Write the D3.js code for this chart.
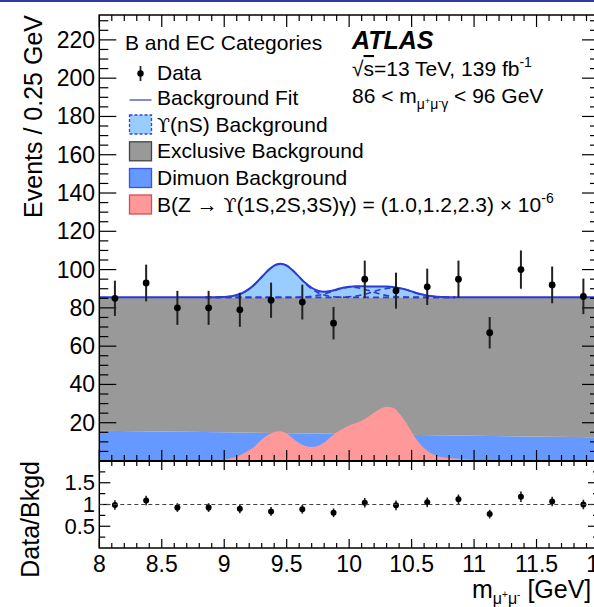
<!DOCTYPE html>
<html>
<head>
<meta charset="utf-8">
<script src="https://cdn.jsdelivr.net/npm/d3@7"></script>
<style>
  html, body { margin: 0; padding: 0; background: #fff; overflow: hidden; }
  svg { display: block; font-family: "Liberation Sans", Arial, Helvetica, sans-serif; }
</style>
</head>
<body>
<svg id="chart" width="594" height="607"></svg>
<script>
// ---- observed dimuon mass spectrum, 0.25 GeV bins ----
const binCenters = [8.125, 8.375, 8.625, 8.875, 9.125, 9.375, 9.625, 9.875,
                    10.125, 10.375, 10.625, 10.875, 11.125, 11.375, 11.625, 11.875];
const counts      = [85, 93, 80, 80, 79, 84, 83, 72, 95, 89, 91, 95, 67, 100, 92, 86];
const countErrors = [9.2, 9.6, 8.9, 8.9, 8.9, 9.2, 9.1, 8.5, 9.7, 9.4, 9.5, 9.7, 8.2, 10.0, 9.6, 9.3];
const ratios      = [0.99, 1.09, 0.93, 0.93, 0.90, 0.84, 0.89, 0.81, 1.04, 0.98, 1.05, 1.12, 0.78, 1.18, 1.07, 1.00];
const ratioErrors = [0.11, 0.11, 0.10, 0.10, 0.10, 0.10, 0.10, 0.10, 0.11, 0.11, 0.11, 0.11, 0.10, 0.12, 0.11, 0.11];

// ---- continuum backgrounds (stacked) ----
const bkgMass   = [8, 9, 10, 11, 12];
const dimuon    = [15.8, 15.0, 14.1, 13.2, 12.4];
const exclusive = [69.7, 70.5, 71.4, 72.3, 73.1];

// ---- Upsilon(nS) resonant background components ----
const upsMass = [8.85, 8.90, 8.95, 9.00, 9.05, 9.10, 9.15, 9.20, 9.25, 9.30, 9.35, 9.40, 9.45, 9.50,
                 9.55, 9.60, 9.65, 9.70, 9.75, 9.80, 9.85, 9.90, 9.95, 10.00, 10.05, 10.10, 10.15,
                 10.20, 10.25, 10.30, 10.35, 10.40, 10.45, 10.50, 10.55, 10.60, 10.65, 10.70, 10.75,
                 10.80, 10.85];
const ups1S = [0, 0, 0.1, 0.2, 0.5, 1.2, 2.4, 4.4, 7.2, 10.6, 14.0, 16.6, 17.5, 16.6,
               14.0, 10.6, 7.2, 4.4, 2.4, 1.2, 0.5, 0.2, 0.1, 0, 0, 0, 0,
               0, 0, 0, 0, 0, 0, 0, 0, 0, 0, 0, 0, 0, 0];
const ups2S = [0, 0, 0, 0, 0, 0, 0, 0, 0, 0, 0, 0, 0, 0,
               0, 0.1, 0.25, 0.6, 1.05, 1.75, 2.8, 3.9, 4.75, 5.25, 5.2, 4.6, 3.65,
               2.6, 1.65, 0.95, 0.45, 0.2, 0.1, 0, 0, 0, 0, 0, 0, 0, 0];
const ups3S = [0, 0, 0, 0, 0, 0, 0, 0, 0, 0, 0, 0, 0, 0,
               0, 0, 0, 0, 0, 0, 0, 0.05, 0.15, 0.3, 0.65, 1.25, 2.0,
               3.1, 4.05, 4.7, 5.0, 4.7, 4.05, 3.1, 2.0, 1.25, 0.65, 0.3, 0.15, 0.05, 0];

// ---- Z -> Upsilon(1S,2S,3S) gamma signal hypothesis ----
const sigMass = [8.85, 8.90, 8.95, 9.00, 9.05, 9.10, 9.15, 9.20, 9.25, 9.30,
                 9.35, 9.40, 9.45, 9.50, 9.55, 9.60, 9.65, 9.70, 9.75, 9.80,
                 9.85, 9.90, 9.95, 10.00, 10.05, 10.10, 10.15, 10.20, 10.25, 10.30,
                 10.35, 10.40, 10.45, 10.50, 10.55, 10.60, 10.65, 10.70, 10.75, 10.80,
                 10.85, 10.90, 10.95, 11.00, 11.05, 11.10, 11.15, 11.20, 11.25, 11.30];
const signal  = [0, 0.1, 0.3, 0.7, 1.4, 2.4, 3.8, 5.6, 8.0, 11.2,
                 13.6, 15.1, 15.6, 14.4, 11.8, 9.4, 7.9, 7.3, 7.8, 9.6,
                 12.4, 15.0, 16.9, 18.5, 19.7, 21.0, 23.0, 25.3, 27.3, 28.4,
                 27.8, 25.0, 20.6, 15.2, 10.3, 6.6, 4.2, 2.8, 2.0, 1.6,
                 1.3, 1.0, 0.8, 0.6, 0.4, 0.3, 0.2, 0.1, 0.05, 0];

// ---- axis ticks ----
const xMajor = [8, 8.5, 9, 9.5, 10, 10.5, 11, 11.5, 12];
const xLabels = ["8", "8.5", "9", "9.5", "10", "10.5", "11", "11.5", "12"];
const yMajor = [0, 20, 40, 60, 80, 100, 120, 140, 160, 180, 200, 220];
const yLabelled = [20, 40, 60, 80, 100, 120, 140, 160, 180, 200, 220];
const rMajor = [0.5, 1, 1.5];
const rLabels = ["0.5", "1", "1.5"];
const rMinor = [0.25, 0.75, 1.25, 1.75];

// ---- colours ----
const C = {
  dimuon: "#6699ff", exclusive: "#999999", ups: "#99ccff",
  fit: "#2b3bd6", signal: "#ff9999", signalEdge: "#d05050"
};

const svg = d3.select("#chart");
const L = 99.3, R = 599, T = 15, M = 461, B = 548;

const x  = d3.scaleLinear().domain([8, 12]).range([L, R]);
const y  = d3.scaleLinear().domain([0, 233]).range([M, T]);
const yr = d3.scaleLinear().domain([0, 2]).range([B, M]);

svg.append("rect").attr("x", 0).attr("y", 0).attr("width", 594).attr("height", 2).attr("fill", "#2f3aa6");

const defs = svg.append("defs");
defs.append("clipPath").attr("id", "upper").append("rect")
  .attr("x", L).attr("y", T).attr("width", R - L).attr("height", M - T);

const up = svg.append("g").attr("clip-path", "url(#upper)");

// stacked continuum
const stack = bkgMass.map((m, i) => ({ m, d: dimuon[i], t: dimuon[i] + exclusive[i] }));
up.append("path").datum(stack).attr("fill", C.dimuon)
  .attr("d", d3.area().x(p => x(p.m)).y0(y(0)).y1(p => y(p.d)));
up.append("path").datum(stack).attr("fill", C.exclusive)
  .attr("d", d3.area().x(p => x(p.m)).y0(p => y(p.d)).y1(p => y(p.t)));

const contTop = d3.scaleLinear().domain(bkgMass).range(stack.map(p => p.t));

// Upsilon(nS) contribution on top of the continuum
const ups = upsMass.map((m, i) => {
  const b = contTop(m);
  return { m, b, s1: ups1S[i], s2: ups2S[i], s3: ups3S[i], tot: b + ups1S[i] + ups2S[i] + ups3S[i] };
});
const smooth = d3.curveMonotoneX;
up.append("path").datum(ups).attr("fill", C.ups)
  .attr("d", d3.area().curve(smooth).x(p => x(p.m)).y0(p => y(p.b)).y1(p => y(p.tot)));

["s1", "s2", "s3"].forEach(k => {
  up.append("path").datum(ups).attr("fill", "none").attr("stroke", C.fit)
    .attr("stroke-width", 1.6).attr("stroke-dasharray", "6,4")
    .attr("d", d3.line().curve(smooth).x(p => x(p.m)).y(p => y(p.b + p[k])));
});

// total background fit
const fitPts = [{ m: 8, v: contTop(8) }, ...ups.map(p => ({ m: p.m, v: p.tot })), { m: 12, v: contTop(12) }];
up.append("path").datum(fitPts).attr("fill", "none").attr("stroke", C.fit).attr("stroke-width", 2)
  .attr("d", d3.line().curve(smooth).x(p => x(p.m)).y(p => y(p.v)));

// signal hypothesis (overlaid)
const sig = sigMass.map((m, i) => ({ m, v: signal[i] }));
up.append("path").datum(sig).attr("fill", C.signal)
  .attr("d", d3.area().curve(smooth).x(p => x(p.m)).y0(y(0)).y1(p => y(p.v)));

// ---- tick helpers ----
function range(a, b, s) { const out = []; for (let v = a; v <= b + 1e-9; v += s) out.push(+v.toFixed(4)); return out; }
const xMinor = range(8, 12, 0.1).filter(v => !xMajor.some(t => Math.abs(t - v) < 1e-6));
const yMinor = range(5, 230, 5).filter(v => v % 20 !== 0);

const tk = svg.append("g").attr("stroke", "#000").attr("stroke-width", 1.2);
function xTicks(y0, dir, vals, len) {
  tk.selectAll(null).data(vals).enter().append("line")
    .attr("x1", d => x(d)).attr("x2", d => x(d)).attr("y1", y0).attr("y2", y0 + dir * len);
}
function yTicks(scale, x0, dir, vals, len) {
  tk.selectAll(null).data(vals).enter().append("line")
    .attr("y1", d => scale(d)).attr("y2", d => scale(d)).attr("x1", x0).attr("x2", x0 + dir * len);
}
// upper panel
xTicks(M, -1, xMajor, 11); xTicks(M, -1, xMinor, 6);
xTicks(T, 1, xMajor, 12);  xTicks(T, 1, xMinor, 6);
yTicks(y, L, 1, yMajor, 17); yTicks(y, L, 1, yMinor, 9);
yTicks(y, R, -1, yMajor, 17); yTicks(y, R, -1, yMinor, 9);
// ratio panel
xTicks(M, 1, xMajor, 9); xTicks(M, 1, xMinor, 5);
xTicks(B, -1, xMajor, 9); xTicks(B, -1, xMinor, 5);
yTicks(yr, L, 1, rMajor, 11); yTicks(yr, L, 1, rMinor, 6);
yTicks(yr, R, -1, rMajor, 11); yTicks(yr, R, -1, rMinor, 6);

// frames
svg.append("rect").attr("x", L).attr("y", T).attr("width", R - L).attr("height", B - T)
  .attr("fill", "none").attr("stroke", "#000").attr("stroke-width", 1.5);
svg.append("line").attr("x1", L).attr("x2", R).attr("y1", M).attr("y2", M)
  .attr("stroke", "#000").attr("stroke-width", 2);

// ---- data points ----
const pts = binCenters.map((m, i) => ({ m, n: counts[i], e: countErrors[i], r: ratios[i], re: ratioErrors[i] }));
const dg = svg.append("g");
dg.selectAll(null).data(pts).enter().append("line")
  .attr("x1", d => x(d.m)).attr("x2", d => x(d.m))
  .attr("y1", d => y(d.n - d.e)).attr("y2", d => y(d.n + d.e))
  .attr("stroke", "#222").attr("stroke-width", 2);
dg.selectAll(null).data(pts).enter().append("circle")
  .attr("cx", d => x(d.m)).attr("cy", d => y(d.n)).attr("r", 3.4).attr("fill", "#000");

// ratio panel
svg.append("line").attr("x1", L).attr("x2", R).attr("y1", yr(1)).attr("y2", yr(1))
  .attr("stroke", "#444").attr("stroke-width", 1).attr("stroke-dasharray", "4,3");
dg.selectAll(null).data(pts).enter().append("line")
  .attr("x1", d => x(d.m)).attr("x2", d => x(d.m))
  .attr("y1", d => yr(d.r - d.re)).attr("y2", d => yr(d.r + d.re))
  .attr("stroke", "#222").attr("stroke-width", 1.6);
dg.selectAll(null).data(pts).enter().append("circle")
  .attr("cx", d => x(d.m)).attr("cy", d => yr(d.r)).attr("r", 3).attr("fill", "#000");

// ---- tick labels ----
const lab = svg.append("g").attr("font-size", 23).attr("fill", "#000");
lab.selectAll(null).data(yLabelled).enter().append("text")
  .attr("x", 95).attr("y", d => y(d) + 8).attr("text-anchor", "end").text(d => d);
lab.selectAll(null).data(rMajor).enter().append("text")
  .attr("x", 95).attr("y", d => yr(d) + 7.5).attr("text-anchor", "end")
  .attr("font-size", 22).text((d, i) => rLabels[i]);
lab.selectAll(null).data(xMajor).enter().append("text")
  .attr("x", d => x(d)).attr("y", 572).attr("text-anchor", "middle").text((d, i) => xLabels[i]);

// ---- axis titles ----
svg.append("text").attr("transform", "translate(42,15) rotate(-90)").attr("text-anchor", "end")
  .attr("font-size", 25).text("Events / 0.25 GeV");
svg.append("text").attr("transform", "translate(39,461) rotate(-90)").attr("text-anchor", "end")
  .attr("font-size", 25).text("Data/Bkgd");
const xt = svg.append("text").attr("x", 472).attr("y", 598).attr("font-size", 25);
xt.append("tspan").text("m");
xt.append("tspan").attr("font-size", 16).attr("dy", 6).text("μ");
xt.append("tspan").attr("font-size", 10).attr("dy", -6).text("+");
xt.append("tspan").attr("font-size", 16).attr("dy", 6).text("μ");
xt.append("tspan").attr("font-size", 10).attr("dy", -6).text("-");
xt.append("tspan").attr("dy", 0).text(" [GeV]");

// ---- legend ----
const lg = svg.append("g").attr("font-size", 21);
lg.append("text").attr("x", 125).attr("y", 50).text("B and EC Categories");
const rows = [80, 105, 131.5, 158.3, 185, 211.5];
const mx = 129.5, mw = 22, mh = 19;
// Data marker
lg.append("line").attr("x1", mx + mw / 2).attr("x2", mx + mw / 2).attr("y1", 66).attr("y2", 81)
  .attr("stroke", "#222").attr("stroke-width", 1.8);
lg.append("circle").attr("cx", mx + mw / 2).attr("cy", 73.5).attr("r", 3.2).attr("fill", "#000");
// fit line
lg.append("line").attr("x1", mx).attr("x2", mx + mw).attr("y1", 100).attr("y2", 100)
  .attr("stroke", "#5d63c8").attr("stroke-width", 1.5);
// boxes
const boxes = [
  { row: 2, fill: C.ups, stroke: "#3344dd", dash: "3,2" },
  { row: 3, fill: C.exclusive, stroke: "#444", dash: null },
  { row: 4, fill: C.dimuon, stroke: "#3355ee", dash: null },
  { row: 5, fill: C.signal, stroke: C.signalEdge, dash: null }
];
boxes.forEach(b => {
  lg.append("rect").attr("x", mx).attr("y", rows[b.row] - 16.5).attr("width", mw).attr("height", mh)
    .attr("fill", b.fill).attr("stroke", b.stroke).attr("stroke-width", 1.3)
    .attr("stroke-dasharray", b.dash);
});
const tx = 157;
lg.append("text").attr("x", tx).attr("y", rows[0]).text("Data");
lg.append("text").attr("x", tx).attr("y", rows[1]).text("Background Fit");
const t2 = lg.append("text").attr("x", tx).attr("y", rows[2]);
t2.append("tspan").attr("font-family", "DejaVu Serif").attr("font-size", 19).text("ϒ");
t2.append("tspan").text("(nS) Background");
lg.append("text").attr("x", tx).attr("y", rows[3]).text("Exclusive Background");
lg.append("text").attr("x", tx).attr("y", rows[4]).text("Dimuon Background");
const t5 = lg.append("text").attr("x", tx).attr("y", rows[5]);
t5.append("tspan").text("B(Z → ");
t5.append("tspan").attr("font-family", "DejaVu Serif").attr("font-size", 19).text("ϒ");
t5.append("tspan").text("(1S,2S,3S)γ) = (1.0,1.2,2.3) × 10");
t5.append("tspan").attr("font-size", 14).attr("dy", -9).text("-6");

// ---- experiment label ----
svg.append("text").attr("x", 352).attr("y", 49).attr("font-size", 25)
  .attr("font-weight", "bold").attr("font-style", "italic").text("ATLAS");
const e1 = svg.append("text").attr("x", 352).attr("y", 76).attr("font-size", 21);
e1.append("tspan").text("√");
e1.append("tspan").attr("text-decoration", "overline").text("s");
e1.append("tspan").text("=13 TeV, 139 fb");
e1.append("tspan").attr("font-size", 14).attr("dy", -9).text("-1");
const e2 = svg.append("text").attr("x", 352).attr("y", 103).attr("font-size", 21);
e2.append("tspan").text("86 < m");
e2.append("tspan").attr("font-size", 14).attr("dy", 6).text("μ");
e2.append("tspan").attr("font-size", 9).attr("dy", -5).text("+");
e2.append("tspan").attr("font-size", 14).attr("dy", 5).text("μ");
e2.append("tspan").attr("font-size", 9).attr("dy", -5).text("-");
e2.append("tspan").attr("font-size", 14).attr("dy", 5).text("γ");
e2.append("tspan").attr("dy", -6).text(" < 96 GeV");
</script>
</body>
</html>
